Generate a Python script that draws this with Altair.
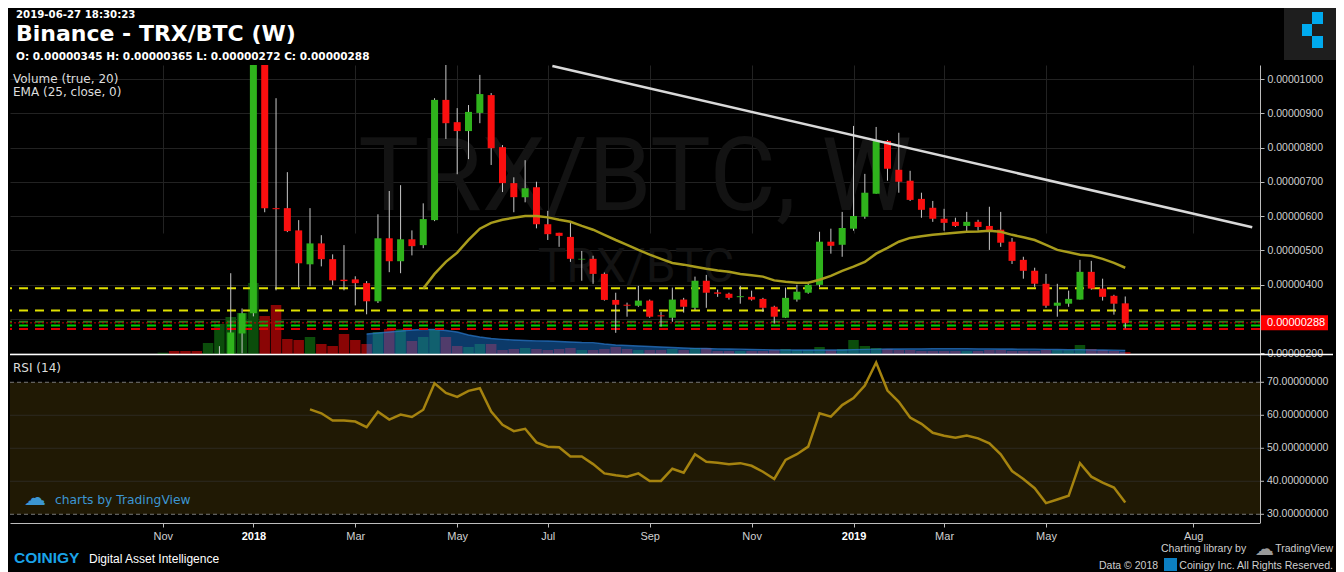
import altair as alt
import pandas as pd

# ---------------- data (prices in satoshi, 1e-8 BTC) ----------------
CANDLE_START = "2017-11-06"   # weekly bars
opens = [30, 31, 28, 26, 24, 55, 115, 257,
         316, 1350, 623, 623, 558, 459, 520, 474, 414, 415,
         404, 351, 535, 468, 532, 515, 588, 939, 874, 848,
         901, 953, 801, 696, 655, 684, 576, 551, 539, 473,
         475, 431, 355, 341, 338, 353, 310, 303, 356, 332,
         411, 377, 373, 363, 364, 358, 335, 303, 356, 376,
         399, 525, 516, 563, 598, 665, 819, 735, 703, 650,
         624, 592, 583, 571, 583, 571, 560, 525, 472, 440,
         402, 338, 344, 356, 437, 388, 367, 345]
highs = [33, 32, 29, 27, 62, 220, 433, 330,
         1720, 1380, 944, 728, 588, 623, 544, 488, 515, 424,
         410, 605, 673, 690, 558, 637, 944, 1050, 915, 924,
         1012, 959, 807, 713, 763, 700, 615, 551, 580, 498,
         484, 435, 376, 347, 396, 356, 320, 391, 361, 423,
         428, 385, 376, 396, 382, 361, 338, 391, 399, 405,
         554, 563, 612, 863, 723, 860, 822, 843, 732, 668,
         644, 621, 595, 612, 589, 627, 612, 536, 481, 449,
         431, 402, 382, 472, 469, 417, 370, 365]
lows = [28, 27, 25, 23, 23, 52, 105, 199,
        307, 611, 383, 553, 392, 395, 453, 398, 383, 339,
        313, 346, 436, 433, 485, 506, 585, 825, 722, 766,
        871, 749, 670, 611, 640, 564, 530, 510, 466, 411,
        402, 353, 259, 306, 335, 303, 277, 291, 318, 326,
        332, 364, 356, 344, 353, 320, 286, 302, 350, 373,
        393, 490, 481, 557, 592, 665, 703, 668, 644, 595,
        583, 557, 568, 551, 557, 501, 510, 460, 417, 393,
        332, 306, 335, 356, 385, 353, 312, 272]
closes = [31, 28, 26, 24, 55, 115, 260, 316,
          1350, 623, 620, 556, 462, 520, 474, 412, 410, 404,
          351, 535, 468, 532, 512, 591, 939, 871, 848, 904,
          956, 798, 696, 655, 681, 576, 547, 542, 475, 475,
          431, 355, 341, 338, 353, 306, 307, 356, 335, 411,
          376, 373, 361, 366, 356, 332, 306, 361, 379, 399,
          525, 513, 565, 600, 668, 819, 738, 700, 647, 618,
          592, 580, 571, 583, 568, 557, 522, 469, 440, 402,
          338, 347, 358, 437, 388, 364, 344, 288]
volumes = [1.3, 3, 3, 3, 11, 30, 37, 41,
           71, 38, 49, 15, 14, 17, 10, 8, 20, 14,
           10, 22, 25, 25, 13, 17, 25, 17, 8, 7,
           10, 10, 4, 5, 6, 5, 4, 5, 6, 4,
           4, 5, 7, 5, 4, 4, 4, 5, 4, 6,
           6, 3, 3, 3, 3, 3, 4, 5, 4, 4,
           7, 4, 5, 14, 8, 6, 5, 4, 4, 3,
           3, 3, 3, 3, 3, 4, 4, 3, 3, 3,
           4, 4, 4, 9, 5, 4, 3, 2]

VOLMA_START = "2018-03-12"
volume_ma20 = [20, 21, 22, 23, 24, 24.5, 24.5, 23.5, 22, 19,
               17, 15.5, 14.7, 14, 13.5, 13.2, 13, 12.5, 12, 11.5,
               11.3, 10, 9, 8.5, 8, 7.5, 7, 6.5, 6, 5.7,
               5.5, 5.2, 5, 4.8, 4.5, 4.3, 4.2, 4.1, 4, 4,
               4, 4, 4, 4.4, 4.6, 4.8, 5, 5, 5.2, 5.2,
               5.3, 5.3, 5.3, 5.3, 5.2, 5.2, 5, 5, 4.8, 4.8,
               4.6, 4.5, 4.3, 4.3, 4.2, 4, 3.8, 3.6]

EMA_START = "2018-04-16"
ema25 = [388, 431, 466, 493, 530, 563, 580, 589, 595, 600,
         600, 596, 589, 583, 571, 560, 545, 530, 516, 501,
         487, 475, 463, 458, 452, 446, 441, 437, 431, 427,
         423, 412, 408, 405, 405, 414, 425, 440, 452, 466,
         490, 507, 525, 536, 541, 545, 548, 551, 554, 555,
         557, 554, 545, 538, 530, 516, 501, 494, 487, 484,
         475, 463, 449]

RSI_START = "2018-02-05"
rsi14 = [61.8, 60.6, 58.4, 58.4, 58.1, 56.4, 61.1, 58.7, 60.2, 59.5,
         61.7, 69.7, 66.8, 65.6, 67.4, 68.2, 61.1, 57.1, 55.2, 55.9,
         51.8, 50.5, 50.3, 47.5, 47.5, 45.2, 42.4, 41.8, 41.4, 42.4,
         40.1, 40.1, 43.8, 42.6, 48.2, 45.9, 45.6, 45.2, 45.5, 44.7,
         42.9, 40.7, 46.5, 48.2, 50.5, 60.6, 59.6, 63.1, 65.2, 69.0,
         76.0, 67.5, 64.1, 59.3, 57.4, 54.7, 53.8, 53.2, 53.9, 53.0,
         51.5, 48.2, 43.1, 40.7, 37.9, 33.4, 34.5, 35.6, 45.5, 41.4,
         39.6, 38.1, 33.6]

trend_dates = ["2018-07-04 20:00", "2019-09-10 12:00"]
trend_prices = [1038, 567]
yellow_levels = [389, 324]
darkgreen_levels = [291]
green_levels = [280]
red_levels = [270]
last_price = [288]
price_ticks = [200, 300, 400, 500, 600, 700, 800, 900, 1000]
rsi_grid = [40, 50, 60]
rsi_bounds = [30, 70]
rsi_ticks = [30, 40, 50, 60, 70]
month_ticks = ["2017-11-06", "2018-01-01", "2018-03-05", "2018-05-07",
               "2018-07-02", "2018-09-03", "2018-11-05", "2019-01-07",
               "2019-03-04", "2019-05-06", "2019-08-05"]

# ---------------- frames ----------------
cd = pd.DataFrame({"date": pd.date_range(CANDLE_START, periods=len(opens), freq="7D"),
                   "o": opens, "h": highs, "l": lows, "c": closes, "v": volumes})
vma = pd.DataFrame({"date": pd.date_range(VOLMA_START, periods=len(volume_ma20), freq="7D"),
                    "m": volume_ma20})
ema = pd.DataFrame({"date": pd.date_range(EMA_START, periods=len(ema25), freq="7D"), "e": ema25})
rsi = pd.DataFrame({"date": pd.date_range(RSI_START, periods=len(rsi14), freq="7D"), "r": rsi14})
trend = pd.DataFrame({"date": pd.to_datetime(trend_dates), "p": trend_prices})


def dt(s):
    t = pd.Timestamp(s)
    return alt.DateTime(year=t.year, month=t.month, date=t.day, hours=t.hour)


PW, PH = 1250, 458
TOTAL_W = 1328
P_BOT = 289
R_TOP = 290
GRID = "#222222"
AXIS = "#bdbdbd"
LBL = "#d0d0d0"

x_scale = alt.Scale(domain=[dt("2017-08-06 15:00"), dt("2019-09-12 05:00")], nice=False)
x_axis = alt.Axis(
    values=[dt(s) for s in month_ticks],
    labelExpr="month(datum.value) == 0 ? timeFormat(datum.value, '%Y') : timeFormat(datum.value, '%b')",
    labelFontWeight={"condition": {"test": "month(datum.value) == 0", "value": "bold"}, "value": "normal"},
    labelColor={"condition": {"test": "month(datum.value) == 0", "value": "#ffffff"}, "value": LBL},
    grid=True, gridColor=GRID, domainColor=AXIS, tickColor=AXIS, tickSize=4,
    labelPadding=3, labelFont="Liberation Sans", labelFontSize=11, labelFlush=False, title=None)


def X(f):
    return alt.X(f"{f}:T", scale=x_scale, axis=x_axis, title=None)


p_scale = alt.Scale(domain=[197.1, 1040.9], range=[P_BOT, 0], clamp=True, zero=False, nice=False)
p_axis = alt.Axis(orient="right", values=price_ticks,
                  labelExpr="datum.value == 300 ? '' : format(datum.value / 100000000, '.8f')",
                  grid=True, gridColor=GRID, domainColor=AXIS, tickColor=AXIS, tickSize=4,
                  labelPadding=3, labelColor=LBL, labelFont="Liberation Sans", labelFontSize=10.5,
                  title=None)


def Yp(f):
    return alt.Y(f"{f}:Q", scale=p_scale, axis=p_axis, title=None)


v_scale = alt.Scale(domain=[0, P_BOT], range=[P_BOT, 0], zero=True, nice=False)
r_scale = alt.Scale(domain=[27.36, 78.27], range=[PH, R_TOP], zero=False, nice=False)


def Yr(f):
    return alt.Y(f"{f}:Q", scale=r_scale, axis=None, title=None)


def txt(s, x, y, size, color, font="DejaVu Sans", weight="normal", align="left"):
    return alt.Chart(pd.DataFrame({"s": [s]})).mark_text(
        align=align, baseline="alphabetic", font=font, fontSize=size,
        fontWeight=weight, color=color).encode(text="s:N", x=alt.value(x), y=alt.value(y))


def box(x1, x2, y1, y2, color):
    return alt.Chart(pd.DataFrame({"k": [0]})).mark_rect(color=color).encode(
        x=alt.value(x1), x2=alt.value(x2), y=alt.value(y1), y2=alt.value(y2))


UP = "datum.c >= datum.o"

# ---------------- RSI panel ----------------
rsi_band = alt.Chart(pd.DataFrame({"lo": [rsi_bounds[0]], "hi": [rsi_bounds[1]]})).mark_rect(
    color="#3a2e08", opacity=0.55).encode(x=alt.value(0), x2=alt.value(PW), y=Yr("lo"), y2="hi:Q")
rsi_gridl = alt.Chart(pd.DataFrame({"g": rsi_grid})).mark_rule(color="#2c2a22", strokeWidth=1).encode(y=Yr("g"))
rsi_lim = alt.Chart(pd.DataFrame({"g": rsi_bounds})).mark_rule(
    color="#777777", strokeWidth=1, strokeDash=[4, 3]).encode(y=Yr("g"))
rsi_line = alt.Chart(rsi).mark_line(color="#a5830f", strokeWidth=2.5).encode(x=X("date"), y=Yr("r"))
rsi_tdf = pd.DataFrame({"t": rsi_ticks, "lab": [f"{v:.8f}" for v in rsi_ticks]})
rsi_tick = alt.Chart(rsi_tdf).mark_rule(color=AXIS).encode(y=Yr("t"), x=alt.value(PW), x2=alt.value(PW + 4))
rsi_lab = alt.Chart(rsi_tdf).mark_text(align="left", baseline="middle", font="Liberation Sans",
                                       fontSize=10.5, color=LBL).encode(
    y=Yr("t"), x=alt.value(PW + 7), text="lab:N")
rsi_group = alt.layer(rsi_band, rsi_gridl, rsi_lim, rsi_line, rsi_tick, rsi_lab)

# ---------------- volume ----------------
base = alt.Chart(cd)
vol_bars = base.mark_bar(size=10.5).encode(
    x=X("date"), y=alt.Y("v:Q", scale=v_scale, axis=None, stack=None),
    color=alt.condition(UP, alt.value("#0b4d0b"), alt.value("#8a0505")))
vol_area = alt.Chart(vma).mark_area(color="#1874d2", opacity=0.5).encode(
    x=X("date"), y=alt.Y("m:Q", scale=v_scale, axis=None, stack=None))
vol_edge = alt.Chart(vma).mark_line(color="#2a7bd0", strokeWidth=1.3, opacity=0.7).encode(
    x=X("date"), y=alt.Y("m:Q", scale=v_scale, axis=None, stack=None))
vol_group = alt.layer(vol_bars, vol_area, vol_edge)


# ---------------- price panel ----------------
def level(vals, color, dash, width=2):
    return alt.Chart(pd.DataFrame({"p": vals})).mark_rule(
        color=color, strokeDash=dash, strokeWidth=width).encode(y=Yp("p"))


wicks = base.mark_rule(color="#c8c8c8", strokeWidth=1).encode(x=X("date"), y=Yp("l"), y2="h:Q")
bodies = base.mark_bar(size=7).encode(
    x=X("date"), y=Yp("o"), y2="c:Q",
    color=alt.condition(UP, alt.value("#2fb31c"), alt.value("#fa0f0f")))
ema_line = alt.Chart(ema).mark_line(color="#a89c1c", strokeWidth=2.5).encode(x=X("date"), y=Yp("e"))
trend_line = alt.Chart(trend).mark_line(color="#d9d9d9", strokeWidth=2.5).encode(x=X("date"), y=Yp("p"))
lp = pd.DataFrame({"p": last_price, "lab": [f"{v / 1e8:.8f}" for v in last_price]})
tag_bg = alt.Chart(lp).mark_rule(color="#ff0000", strokeWidth=15).encode(
    y=Yp("p"), x=alt.value(PW + 1), x2=alt.value(PW + 68))
tag_txt = alt.Chart(lp).mark_text(align="left", baseline="middle", font="Liberation Sans",
                                  fontSize=11, color="#ffffff").encode(
    y=Yp("p"), x=alt.value(PW + 7), text="lab:N")

price_group = alt.layer(
    level(yellow_levels, "#e0e000", [9, 7]),
    level(darkgreen_levels, "#2a7a1a", [9, 7]),
    level(green_levels, "#00cc00", [9, 7]),
    level(red_levels, "#dd0000", [9, 7]),
    level(last_price, "#c80000", [2, 2], 1),
    wicks, bodies, ema_line, trend_line, tag_bg, tag_txt)

# ---------------- texts & decorations (pixel offsets from plot origin) ----------------
RIGHT = TOTAL_W - 2 - 3   # right edge for right-aligned footer texts
overlays = [
    alt.Chart(pd.DataFrame({"k": [0]})).mark_rule(color="#ffffff", strokeWidth=1.5).encode(
        x=alt.value(0), x2=alt.value(PW + 73), y=alt.value(P_BOT + 0.5)),
    alt.Chart(pd.DataFrame({"k": [0]})).mark_rule(color=AXIS, strokeWidth=1).encode(
        x=alt.value(PW + 0.5), y=alt.value(R_TOP), y2=alt.value(PH)),
    txt("2019-06-27 18:30:23", 6, -47.5, 10.2, "#ffffff", weight="bold"),
    txt("Binance - TRX/BTC (W)", 6, -24, 22, "#ffffff", weight="bold"),
    txt("O: 0.00000345 H: 0.00000365 L: 0.00000272 C: 0.00000288", 6, -5, 10.5, "#ffffff", weight="bold"),
    txt("Volume (true, 20)", 3, 17.5, 12, "#dddddd"),
    txt("EMA (25, close, 0)", 3, 30.5, 12, "#dddddd"),
    txt("RSI (14)", 3, 306.5, 12, "#dddddd"),
    txt("\u2601", 14, 440, 22, "#3c96d2"),
    txt("charts by TradingView", 45, 439, 12.3, "#3c96d2"),
    txt("COINIGY", 4, 498, 15.5, "#1aa3e8", font="Liberation Sans", weight="bold"),
    txt("Digital Asset Intelligence", 79, 498, 12, "#ffffff", font="Liberation Sans"),
    txt("Charting library by", 1151, 487, 10.5, "#cfcfcf", font="Liberation Sans"),
    txt("\u2601", 1245, 490, 19, "#9a9a9a"),
    txt("TradingView", RIGHT, 487, 10.5, "#cfcfcf", font="Liberation Sans", align="right"),
    txt("Data \u00a9 2018", 1089, 504, 10.5, "#cfcfcf", font="Liberation Sans"),
    box(1154, 1167, 493, 506, "#0c7fc2"),
    txt("Coinigy Inc. All Rights Reserved.", RIGHT, 504, 10.6, "#cfcfcf", font="Liberation Sans",
        align="right"),
    box(1274, TOTAL_W - 2, -65, -5, "#1e1e1e"),
    box(1302, 1313, -53, -41, "#00aaee"),
    box(1292, 1302, -41, -29, "#00aaee"),
    box(1302, 1313, -29, -17, "#00aaee"),
]

watermarks = [
    txt("TRX/BTC, W", 625, 145, 102, "#131313", font="Roboto", align="center"),
    txt("TRX/BTC", 626, 217, 48, "#131313", font="Roboto", align="center"),
]

chart = alt.layer(
    rsi_group, *watermarks, vol_group, price_group, *overlays
).resolve_scale(y="independent").properties(
    width=PW, height=PH,
    autosize=alt.AutoSizeParams(type="none"),
    padding={"left": 2, "top": 57, "right": TOTAL_W - PW - 2, "bottom": 49},
    background="#000000",
    usermeta={"embedOptions": {"defaultStyle": "html,body{background:#000000;}"}},
).configure_view(strokeWidth=0)

chart.save("out.html", embed_options={"renderer": "svg", "actions": False})
